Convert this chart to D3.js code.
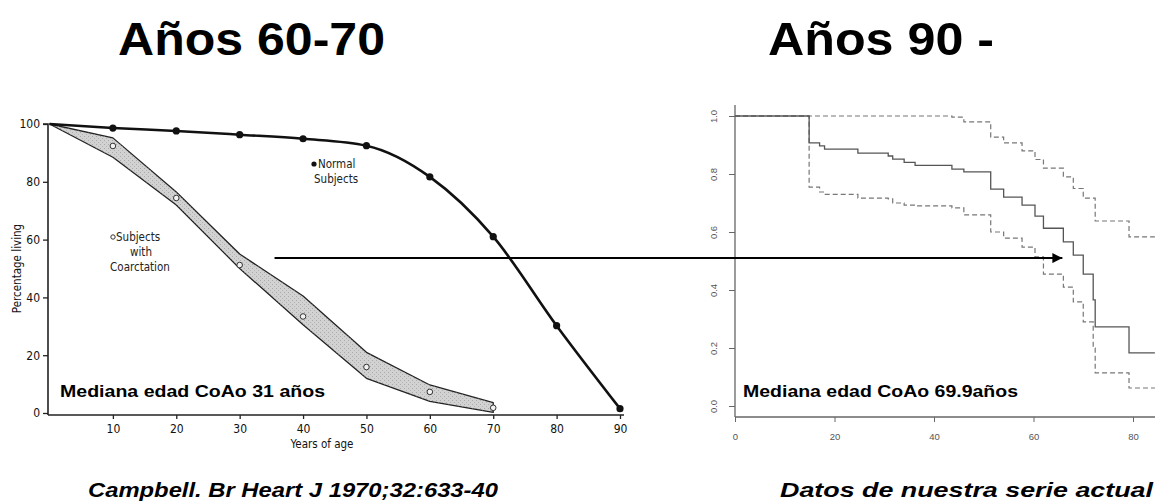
<!DOCTYPE html>
<html>
<head>
<meta charset="utf-8">
<script src="https://cdn.jsdelivr.net/npm/d3@7"></script>
<style>
  html, body { margin: 0; padding: 0; background: #fff; }
  svg { display: block; }
</style>
</head>
<body>
<svg id="chart" width="1155" height="502"></svg>
<script>
// ---- Left panel: Campbell 1970, survival of normal subjects vs. coarctation ----
const leftAgeTicks = [10, 20, 30, 40, 50, 60, 70, 80, 90];
const leftPctTicks = [0, 20, 40, 60, 80, 100];
const normalAges = [0, 10, 20, 30, 40, 50, 60, 70, 80, 90];
const normalPct  = [100, 98.6, 97.6, 96.3, 94.9, 92.5, 81.7, 61.0, 30.2, 1.5];
const coarctAges = [10, 20, 30, 40, 50, 60, 70];
const coarctPct  = [92.4, 74.4, 51.2, 33.4, 15.9, 7.3, 1.8];
const bandAges   = [0, 10, 20, 30, 40, 50, 60, 70];
const bandLow    = [100, 88.5, 72.0, 50.0, 30.5, 12.0, 4.0, 0.2];
const bandHigh   = [100, 95.2, 76.5, 55.0, 40.5, 21.0, 9.7, 3.6];

// ---- Right panel: Kaplan-Meier estimate with 95% confidence limits ----
const kmTicksX = [0, 20, 40, 60, 80];
const kmTicksY = [0.0, 0.2, 0.4, 0.6, 0.8, 1.0];
const kmTimes  = [0, 14.9, 17, 18, 24.7, 30.8, 31.7, 34, 36.2, 43.6, 46, 51.4, 54, 57.7, 60.3, 62, 66, 68, 70, 72, 72.4, 79.2];
const kmSurv   = [1.0, 0.907, 0.897, 0.886, 0.872, 0.862, 0.851, 0.840, 0.830, 0.817, 0.807, 0.748, 0.720, 0.693, 0.655, 0.613, 0.566, 0.520, 0.455, 0.366, 0.273, 0.183];
const kmLower  = [1.0, 0.755, 0.738, 0.730, 0.717, 0.714, 0.700, 0.693, 0.690, 0.683, 0.659, 0.600, 0.579, 0.548, 0.514, 0.455, 0.410, 0.359, 0.290, 0.200, 0.114, 0.062];
const kmUpper  = [1.0, 1.0, 1.0, 1.0, 1.0, 1.0, 1.0, 1.0, 1.0, 0.996, 0.980, 0.927, 0.907, 0.880, 0.850, 0.820, 0.790, 0.750, 0.717, 0.717, 0.638, 0.583];
const kmEnd    = 84.4;

const svg = d3.select("#chart");
const defs = svg.append("defs");
const sans = "'Liberation Sans', Arial, Helvetica, sans-serif";
const narrow = "'Liberation Sans Narrow', 'DejaVu Sans Condensed', 'Liberation Sans', sans-serif";

// Bold text stretched to a given width
function wideText(x, y, size, width, str, italic) {
  return svg.append("text").attr("x", x).attr("y", y)
    .attr("font-family", sans).attr("font-weight", "bold")
    .attr("font-style", italic ? "italic" : "normal").attr("font-size", size)
    .attr("textLength", width).attr("lengthAdjust", "spacingAndGlyphs")
    .attr("fill", "#000").text(str);
}

// Headings and sources
wideText(118, 55, 46, 267, "Años 60-70");
wideText(768, 55, 46, 226, "Años 90 -");
wideText(88, 497, 20, 410, "Campbell. Br Heart J 1970;32:633-40", true);
wideText(780, 497, 20.5, 373, "Datos de nuestra serie actual", true);

// ---------- Left panel ----------
const xL = d3.scaleLinear().domain([0, 90]).range([49.5, 620]);
const yL = d3.scaleLinear().domain([0, 100]).range([413, 124]);
const gL = svg.append("g");

// Shaded band for coarctation survival
const band = bandAges.map((a, i) => ({ a, lo: bandLow[i], hi: bandHigh[i] }));
const bandArea = d3.area().x(d => xL(d.a)).y0(d => yL(d.lo)).y1(d => yL(d.hi));
gL.append("path").datum(band).attr("d", bandArea)
  .attr("fill", "#d2d2d2").attr("stroke", "#222").attr("stroke-width", 1.3)
  .attr("stroke-linejoin", "round");

// Stipple texture inside the band
const pat = defs.append("pattern").attr("id", "stipple").attr("width", 4).attr("height", 4)
  .attr("patternUnits", "userSpaceOnUse");
pat.append("rect").attr("x", 0).attr("y", 0).attr("width", 1).attr("height", 1).attr("fill", "#888");
pat.append("rect").attr("x", 2).attr("y", 2).attr("width", 1).attr("height", 1).attr("fill", "#999");
gL.append("path").datum(band).attr("d", bandArea)
  .attr("fill", "url(#stipple)").attr("opacity", 0.55);

// Axes
const axisLeftL = d3.axisLeft(yL).tickValues(leftPctTicks).tickSize(5).tickPadding(3);
const axL = gL.append("g").attr("transform", `translate(${xL(0) - 1.5},0)`).call(axisLeftL);
axL.select(".domain").attr("d", `M-5,${yL(100)}H0V${yL(0) + 2}`).attr("stroke", "#222").attr("stroke-width", 1.6);
axL.selectAll(".tick line").attr("stroke", "#222").attr("stroke-width", 1.3);
axL.selectAll("text").attr("font-family", narrow).attr("font-size", 12).attr("fill", "#111");

const axisBottomL = d3.axisBottom(xL).tickValues(leftAgeTicks).tickSize(4).tickPadding(5);
const axB = gL.append("g").attr("transform", `translate(0,${yL(0) + 2})`).call(axisBottomL);
axB.select(".domain").attr("d", `M${xL(0) - 1.5},0H${xL(90) + 4}`).attr("stroke", "#222").attr("stroke-width", 1.6);
axB.selectAll(".tick line").attr("stroke", "#222").attr("stroke-width", 1.3);
axB.selectAll("text").attr("font-family", narrow).attr("font-size", 12).attr("fill", "#111");

gL.append("text").attr("x", 322).attr("y", 448).attr("text-anchor", "middle")
  .attr("font-family", narrow).attr("font-size", 11.5).attr("fill", "#111").text("Years of age");
gL.append("text").attr("transform", `translate(21,${yL(50)}) rotate(-90)`).attr("text-anchor", "middle")
  .attr("font-family", narrow).attr("font-size", 11.5).attr("fill", "#111").text("Percentage living");

// Normal subjects curve
const normal = normalAges.map((a, i) => ({ a, v: normalPct[i] }));
gL.append("path").datum(normal)
  .attr("d", d3.line().x(d => xL(d.a)).y(d => yL(d.v)).curve(d3.curveMonotoneX))
  .attr("fill", "none").attr("stroke", "#111").attr("stroke-width", 2.6);
gL.selectAll("circle.normal").data(normal.slice(1)).join("circle")
  .attr("class", "normal").attr("cx", d => xL(d.a)).attr("cy", d => yL(d.v)).attr("r", 3.6).attr("fill", "#111");

// Coarctation points
const coarct = coarctAges.map((a, i) => ({ a, v: coarctPct[i] }));
gL.selectAll("circle.coarct").data(coarct).join("circle")
  .attr("class", "coarct").attr("cx", d => xL(d.a)).attr("cy", d => yL(d.v)).attr("r", 2.8)
  .attr("fill", "#f2f2f2").attr("stroke", "#333").attr("stroke-width", 1);

// Series labels
gL.append("circle").attr("cx", 314).attr("cy", 164).attr("r", 2.6).attr("fill", "#111");
gL.append("text").attr("x", 318).attr("y", 168).attr("font-family", narrow).attr("font-size", 11.5).attr("fill", "#222").text("Normal");
gL.append("text").attr("x", 314).attr("y", 183).attr("font-family", narrow).attr("font-size", 11.5).attr("fill", "#222").text("Subjects");

gL.append("circle").attr("cx", 113).attr("cy", 237).attr("r", 2.2).attr("fill", "#fff").attr("stroke", "#333").attr("stroke-width", 1);
gL.append("text").attr("x", 116).attr("y", 241).attr("font-family", narrow).attr("font-size", 11.5).attr("fill", "#222").text("Subjects");
gL.append("text").attr("x", 141).attr("y", 256).attr("text-anchor", "middle").attr("font-family", narrow).attr("font-size", 11.5).attr("fill", "#222").text("with");
gL.append("text").attr("x", 140).attr("y", 271).attr("text-anchor", "middle").attr("font-family", narrow).attr("font-size", 11.5).attr("fill", "#222").text("Coarctation");

gL.append("text").attr("x", 60).attr("y", 397).attr("font-family", sans).attr("font-weight", "bold")
  .attr("font-size", 17).attr("textLength", 265).attr("lengthAdjust", "spacingAndGlyphs")
  .attr("fill", "#000").text("Mediana edad CoAo 31 años");

// ---------- Right panel ----------
const xR = d3.scaleLinear().domain([0, 80]).range([735, 1133]);
const yR = d3.scaleLinear().domain([0, 1]).range([406, 116]);
const gR = svg.append("g");

const axisLeftR = d3.axisLeft(yR).tickValues(kmTicksY).tickSize(6).tickFormat(d3.format(".1f"));
const ayR = gR.append("g").attr("transform", `translate(${xR(0)},0)`).call(axisLeftR);
ayR.select(".domain").attr("d", `M0,105V417`).attr("stroke", "#666").attr("stroke-width", 1.3);
ayR.selectAll(".tick line").attr("stroke", "#666");
ayR.selectAll(".tick text")
  .attr("x", null).attr("dy", "0.35em")
  .attr("transform", "translate(-21,0) rotate(-90)")
  .attr("text-anchor", "middle")
  .attr("font-family", sans).attr("font-size", 9.5).attr("fill", "#555");

const axisBottomR = d3.axisBottom(xR).tickValues(kmTicksX).tickSize(5).tickPadding(11);
const axR = gR.append("g").attr("transform", "translate(0,417)").call(axisBottomR);
axR.select(".domain").attr("d", `M${xR(0)},0H1155`).attr("stroke", "#666").attr("stroke-width", 1.3);
axR.selectAll(".tick line").attr("stroke", "#666");
axR.selectAll("text").attr("font-family", sans).attr("font-size", 9.5).attr("fill", "#555");

// Step curves
function steps(times, vals) {
  const pts = times.map((t, i) => ({ t, v: vals[i] }));
  pts.push({ t: kmEnd, v: vals[vals.length - 1] });
  return pts;
}
const stepLine = d3.line().x(d => xR(d.t)).y(d => yR(d.v)).curve(d3.curveStepAfter);
gR.append("path").datum(steps(kmTimes, kmUpper)).attr("d", stepLine)
  .attr("fill", "none").attr("stroke", "#777").attr("stroke-width", 1.2).attr("stroke-dasharray", "5,3");
gR.append("path").datum(steps(kmTimes, kmLower)).attr("d", stepLine)
  .attr("fill", "none").attr("stroke", "#777").attr("stroke-width", 1.2).attr("stroke-dasharray", "5,3");
gR.append("path").datum(steps(kmTimes, kmSurv)).attr("d", stepLine)
  .attr("fill", "none").attr("stroke", "#555").attr("stroke-width", 1.3);

gR.append("text").attr("x", 743).attr("y", 397).attr("font-family", sans).attr("font-weight", "bold")
  .attr("font-size", 16.5).attr("textLength", 275).attr("lengthAdjust", "spacingAndGlyphs")
  .attr("fill", "#000").text("Mediana edad CoAo 69.9años");

// ---------- Connecting arrow ----------
const arrowY = yR(0.51);
defs.append("marker").attr("id", "head").attr("viewBox", "0 0 10 10").attr("refX", 10).attr("refY", 5)
  .attr("markerWidth", 6).attr("markerHeight", 5).attr("markerUnits", "strokeWidth").attr("orient", "auto")
  .append("path").attr("d", "M0,0L10,5L0,10Z").attr("fill", "#000");
svg.append("line")
  .attr("x1", xL(35.5)).attr("y1", arrowY)
  .attr("x2", xR(65.8)).attr("y2", arrowY)
  .attr("stroke", "#000").attr("stroke-width", 2).attr("marker-end", "url(#head)");
</script>
</body>
</html>
